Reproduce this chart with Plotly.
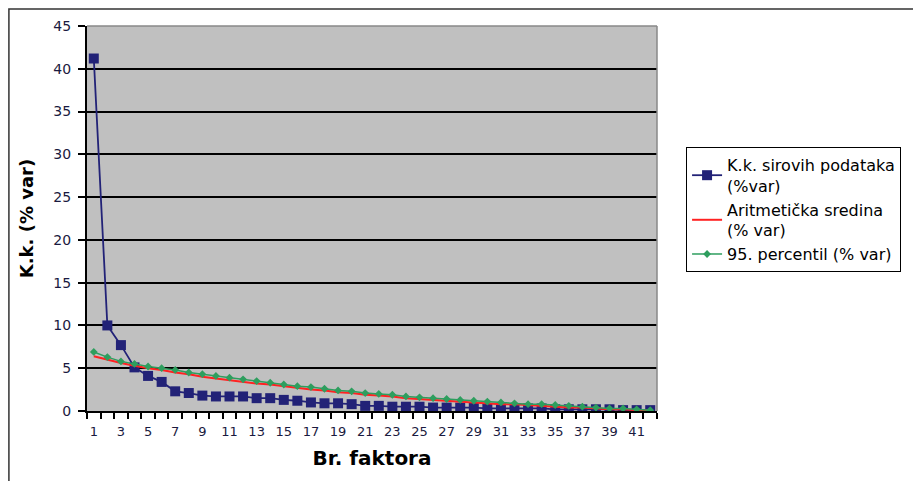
import plotly.graph_objects as go

factors = list(range(1, 43))
raw_pct = [41.2, 10.0, 7.7, 5.1, 4.1, 3.4, 2.3, 2.1, 1.8, 1.7, 1.7, 1.7, 1.5, 1.5,
           1.3, 1.2, 1.0, 0.9, 0.9, 0.8, 0.6, 0.6, 0.5, 0.5, 0.5, 0.4, 0.4, 0.4,
           0.4, 0.3, 0.3, 0.3, 0.3, 0.3, 0.2, 0.2, 0.2, 0.2, 0.2, 0.1, 0.1, 0.1]
mean_pct = [6.4, 6.0, 5.6, 5.3, 5.0, 4.8, 4.5, 4.3, 4.0, 3.8, 3.6, 3.4, 3.2, 3.1,
            2.9, 2.7, 2.5, 2.4, 2.2, 2.1, 1.9, 1.8, 1.7, 1.5, 1.4, 1.3, 1.2, 1.1,
            1.0, 0.9, 0.8, 0.8, 0.7, 0.6, 0.5, 0.4, 0.4, 0.3, 0.2, 0.2, 0.1, 0.1]
p95_pct = [6.9, 6.3, 5.8, 5.5, 5.2, 5.0, 4.8, 4.5, 4.3, 4.1, 3.9, 3.7, 3.5, 3.3,
           3.1, 2.9, 2.8, 2.6, 2.4, 2.3, 2.1, 2.0, 1.9, 1.7, 1.6, 1.5, 1.4, 1.3,
           1.2, 1.1, 1.0, 0.9, 0.8, 0.8, 0.7, 0.6, 0.5, 0.4, 0.3, 0.3, 0.2, 0.1]
x_tick_labels = list(range(1, 42, 2))
y_ticks = list(range(0, 46, 5))

names = ["K.k. sirovih podataka<br>(%var)", "Aritmetička sredina<br>(% var)", "95. percentil (% var)"]

FONT = "DejaVu Sans, Verdana, sans-serif"

fig = go.Figure()
fig.add_trace(go.Scatter(x=factors, y=raw_pct, name=names[0], mode="lines+markers",
                         line=dict(color="#222277", width=1.8),
                         marker=dict(symbol="square", size=10, color="#222277")))
fig.add_trace(go.Scatter(x=factors, y=mean_pct, name=names[1], mode="lines",
                         line=dict(color="#ff2222", width=2)))
fig.add_trace(go.Scatter(x=factors, y=p95_pct, name=names[2], mode="lines+markers",
                         line=dict(color="#2e9e5e", width=1.5),
                         marker=dict(symbol="diamond", size=6, color="#2e9e5e")))

fig.update_layout(
    width=913, height=473,
    margin=dict(l=79, r=264, t=18, b=70),
    paper_bgcolor="white",
    plot_bgcolor="#c0c0c0",
    font=dict(family=FONT, color="black"),
    showlegend=True,
    legend=dict(x=1.051, y=0.686, xanchor="left", yanchor="top",
                bgcolor="white", bordercolor="black", borderwidth=1,
                font=dict(size=16, color="black", family=FONT), tracegroupgap=0,
                itemwidth=30),
    shapes=[dict(type="rect", xref="paper", yref="paper",
                 x0=-0.137, x1=1.452, y0=-0.25, y1=1.044,
                 line=dict(color="#333333", width=1.5), fillcolor="rgba(0,0,0,0)",
                 layer="below")],
)
fig.update_xaxes(
    range=[0.5, 42.5], tickvals=x_tick_labels, ticktext=[str(v) for v in x_tick_labels],
    ticks="", ticklabelstandoff=7, showgrid=False, zeroline=False,
    showline=True, linecolor="black", linewidth=2,
    tickfont=dict(size=13, color="#1a1a40"),
    minor=dict(tick0=0.5, dtick=1, ticks="outside", ticklen=6, tickcolor="black",
               tickwidth=1.5, showgrid=False),
    title=dict(text="<b>Br. faktora</b>", font=dict(size=20, family=FONT), standoff=13),
    automargin=False,
)
fig.update_yaxes(
    range=[0, 45], tickvals=y_ticks, ticks="outside", ticklen=7, tickwidth=1.5, tickcolor="black",
    showgrid=True, gridcolor="black", gridwidth=2, zeroline=False,
    showline=True, linecolor="black", linewidth=2, ticklabelstandoff=4,
    tickfont=dict(size=14, color="#1a1a40"),
    title=dict(text="<b>K.k. (% var)</b>", font=dict(size=18, family=FONT), standoff=15),
    automargin=False,
)
fig.add_shape(type="line", xref="paper", yref="paper", x0=1, x1=1, y0=0, y1=1,
              line=dict(color="#888888", width=1.5))
fig.add_shape(type="line", xref="paper", yref="paper", x0=0, x1=1, y0=1, y1=1,
              line=dict(color="#888888", width=1.5))

fig.write_html("out.html")
